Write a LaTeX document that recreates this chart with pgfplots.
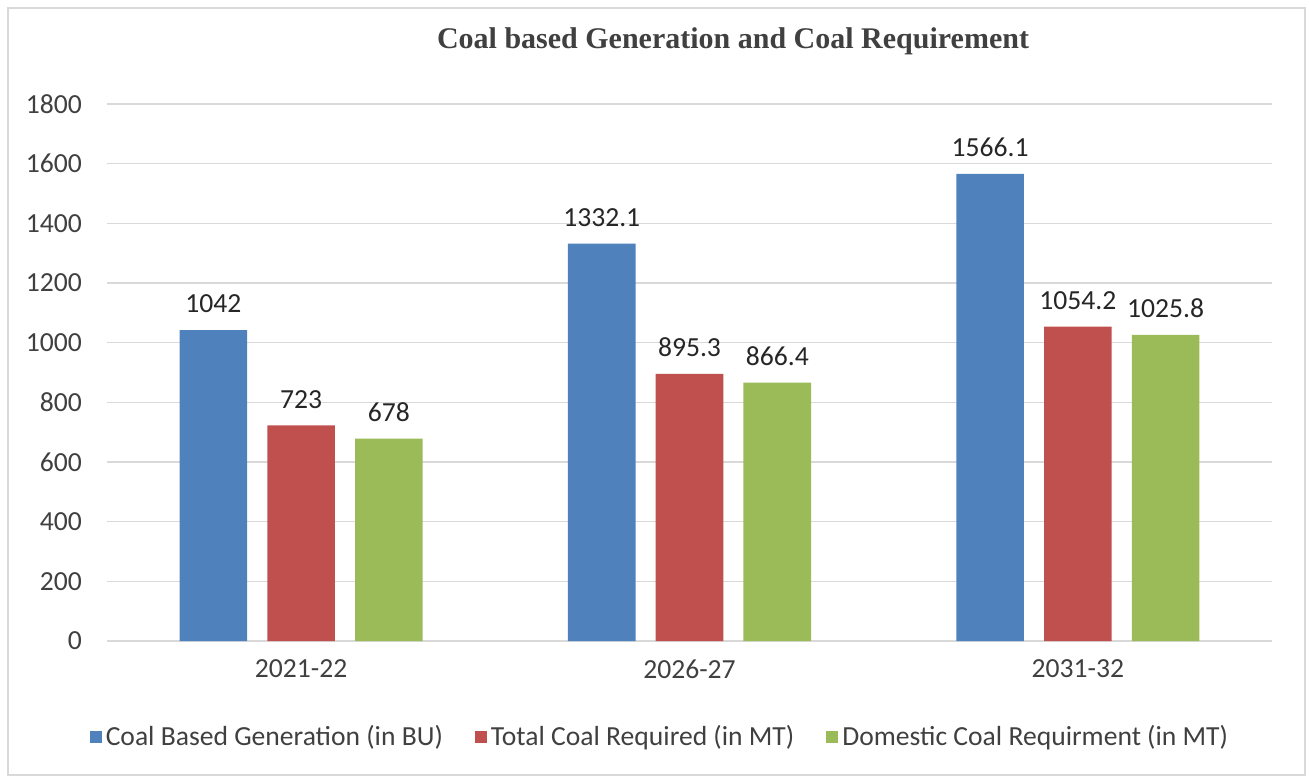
\documentclass[border=0pt]{standalone}
\usepackage{fontspec}
\setmainfont{Carlito}
\newfontfamily\titlefont{Liberation Serif}
\usepackage{pgfplots}
\pgfplotsset{compat=1.18}
\definecolor{cblue}{HTML}{4F81BD}
\definecolor{cred}{HTML}{C0504D}
\definecolor{cgreen}{HTML}{9BBB59}
\definecolor{txt}{HTML}{404040}
\definecolor{gridc}{HTML}{D9D9D9}
\begin{document}
\begin{tikzpicture}
\path[use as bounding box] (-53.5pt,-68.5pt) rectangle (601pt,320.5pt);
\draw[gridc, line width=0.8pt] (-49.5pt,-67pt) rectangle (599pt,316.5pt);
\node[font=\titlefont\bfseries\fontsize{15}{17}\selectfont, text=txt] at (313pt,300pt) {Coal based Generation and Coal Requirement};
\begin{axis}[
  at={(0pt,0pt)}, anchor=south west,
  scale only axis, width=582.5pt, height=268.5pt,
  xmin=-0.5, xmax=2.5, ymin=0, ymax=1800,
  ytick={0,200,...,1800},
  xtick={0,1,2}, xticklabels={2021-22,2026-27,2031-32},
  axis line style={draw=none},
  major tick length=0pt,
  ymajorgrids, grid style={gridc, line width=0.8pt},
  tick label style={font=\fontsize{13.8}{15}\selectfont, text=txt},
  yticklabel style={xshift=-9pt},
  xticklabel style={yshift=-6pt},
  /pgf/number format/assume math mode=true,
  /pgf/number format/1000 sep={},
  ybar, bar width=0.174,
  point meta=explicit symbolic,
  nodes near coords,
  nodes near coords style={font=\fontsize{13.8}{15}\selectfont, text=black!85, anchor=south, yshift=5pt},
  legend columns=3,
  legend style={at={(0.4755,-0.179)}, anchor=center, draw=none, fill=none,
    font=\fontsize{13.8}{15}\selectfont, text=txt,
    /tikz/every even column/.append style={column sep=14pt}},
  legend image code/.code={\fill[#1] (0pt,-3pt) rectangle (6pt,3pt);},
  clip=false,
]
\addplot[fill=cblue, draw=none, bar shift=-0.226] coordinates {(0,1042) [1042] (1,1332.1) [1332.1] (2,1566.1) [1566.1]};
\addlegendentry{Coal Based Generation (in BU)}
\addplot[fill=cred, draw=none, bar shift=0] coordinates {(0,723) [723] (1,895.3) [895.3] (2,1054.2) [1054.2]};
\addlegendentry{Total Coal Required (in MT)}
\addplot[fill=cgreen, draw=none, bar shift=0.226] coordinates {(0,678) [678] (1,866.4) [866.4] (2,1025.8) [1025.8]};
\addlegendentry{Domestic Coal Requirment (in MT)}
\end{axis}
\end{tikzpicture}
\end{document}
